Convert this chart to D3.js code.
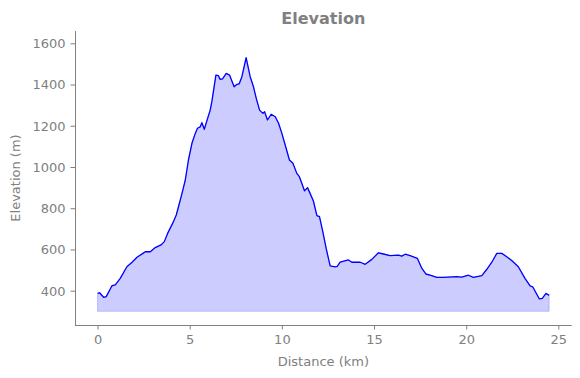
<!DOCTYPE html>
<html>
<head>
<meta charset="utf-8">
<script src="https://cdn.jsdelivr.net/npm/d3@7"></script>
<style>
  body { margin: 0; background: #fff; }
  svg { display: block; }
  text { font-family: "DejaVu Sans", sans-serif; fill: #808080; }
</style>
</head>
<body>
<svg id="chart" width="580" height="378"></svg>
<script>
// Distance along the route (km)
const distanceKm = [
  0.0, 0.11, 0.33, 0.47, 0.78, 0.96, 1.23, 1.59, 1.87, 2.14, 2.46, 2.59, 2.86, 3.13, 3.44, 3.62,
  3.80, 4.09, 4.27, 4.39, 4.58, 4.76, 4.93, 5.12, 5.30, 5.42, 5.57, 5.66, 5.79, 5.97, 6.11, 6.20,
  6.42, 6.56, 6.65, 6.78, 6.98, 7.16, 7.41, 7.56, 7.68, 7.83, 8.06, 8.28, 8.46, 8.61, 8.79, 8.97,
  9.06, 9.22, 9.42, 9.64, 9.82, 10.00, 10.23, 10.41, 10.60, 10.81, 10.95, 11.08, 11.23, 11.39, 11.53,
  11.71, 11.90, 12.04, 12.22, 12.40, 12.62, 12.89, 13.00, 13.16, 13.61, 13.80, 14.25, 14.52, 14.88,
  15.24, 15.51, 15.87, 16.32, 16.51, 16.69, 16.96, 17.35, 17.59, 17.81, 18.04, 18.41, 18.76, 19.49,
  19.76, 20.12, 20.39, 20.85, 21.12, 21.39, 21.66, 21.93, 22.20, 22.47, 22.83, 23.19, 23.47, 23.61,
  23.97, 24.13, 24.33, 24.46, 24.50
];
// Elevation (m)
const elevationM = [
  387, 390, 368, 371, 424, 428, 460, 516, 538, 562, 581, 589, 589, 609, 622, 638,
  678, 730, 767, 807, 872, 937, 1034, 1115, 1163, 1188, 1195, 1215, 1183, 1236, 1276, 1317,
  1446, 1443, 1425, 1428, 1454, 1446, 1389, 1401, 1403, 1438, 1530, 1438, 1389, 1333, 1276, 1260,
  1268, 1228, 1256, 1244, 1212, 1163, 1091, 1034, 1018, 969, 953, 921, 884, 900, 872,
  835, 764, 759, 686, 606, 520, 516, 518, 538, 549, 538, 538, 528, 552,
  584, 578, 570, 573, 568, 577, 570, 557, 509, 481, 476, 465, 465, 468,
  466, 475, 465, 473, 504, 538, 581, 581, 565, 546, 516, 460, 423, 419,
  360, 363, 387, 379, 382
];
const baseElevation = 300;
const xTicks = [0, 5, 10, 15, 20, 25];
const yTicks = [400, 600, 800, 1000, 1200, 1400, 1600];
const titleText = "Elevation";
const xLabelText = "Distance (km)";
const yLabelText = "Elevation (m)";

const data = distanceKm.map((d, i) => ({ x: d, y: elevationM[i] }));

const svg = d3.select("#chart");
const mLeft = 75, mRight = 571.7, mTop = 31, mBottom = 325;

const x = d3.scaleLinear().domain([-1.225, 25.725]).range([mLeft, mRight]);
const y = d3.scaleLinear().domain([233.6, 1659.7]).range([mBottom, mTop]);

const axisColor = "#808080";

// area fill
const area = d3.area()
  .x(d => x(d.x))
  .y0(y(baseElevation))
  .y1(d => y(d.y));
svg.append("path")
  .datum(data)
  .attr("d", area)
  .attr("fill", "rgba(0,0,255,0.2)")
  .attr("stroke", "rgba(0,0,255,0.2)")
  .attr("stroke-width", 1);

// line
const line = d3.line().x(d => x(d.x)).y(d => y(d.y));
svg.append("path")
  .datum(data)
  .attr("d", line)
  .attr("fill", "none")
  .attr("stroke", "#0000ff")
  .attr("stroke-width", 1.3)
  .attr("stroke-linejoin", "round");

// axes
const xAxis = d3.axisBottom(x).tickValues(xTicks).tickSize(4.5).tickPadding(5).tickFormat(d3.format("d"));
const yAxis = d3.axisLeft(y).tickValues(yTicks).tickSize(4.5).tickPadding(5).tickFormat(d3.format("d"));

const gx = svg.append("g").attr("transform", `translate(0,${mBottom})`).call(xAxis);
const gy = svg.append("g").attr("transform", `translate(${mLeft},0)`).call(yAxis);

[gx, gy].forEach(g => {
  g.select(".domain").attr("stroke", axisColor).attr("stroke-width", 1);
  g.selectAll(".tick line").attr("stroke", axisColor).attr("stroke-width", 1);
  g.selectAll(".tick text").attr("fill", axisColor).style("font-size", "13px")
    .style("font-family", "DejaVu Sans, sans-serif");
});
gx.select(".domain").attr("d", `M${mLeft},0.5H${mRight}`);
gy.select(".domain").attr("d", `M0.5,${mTop}V${mBottom}`);
gy.selectAll(".tick text").attr("dy", "0.34em");

// title
svg.append("text")
  .attr("x", (mLeft + mRight) / 2)
  .attr("y", 24)
  .attr("text-anchor", "middle")
  .style("font-size", "16px")
  .style("font-weight", "bold")
  .text(titleText);

// x label
svg.append("text")
  .attr("x", (mLeft + mRight) / 2)
  .attr("y", 366)
  .attr("text-anchor", "middle")
  .style("font-size", "13px")
  .text(xLabelText);

// y label
svg.append("text")
  .attr("transform", `translate(20,178) rotate(-90)`)
  .attr("text-anchor", "middle")
  .style("font-size", "13px")
  .text(yLabelText);
</script>
</body>
</html>
